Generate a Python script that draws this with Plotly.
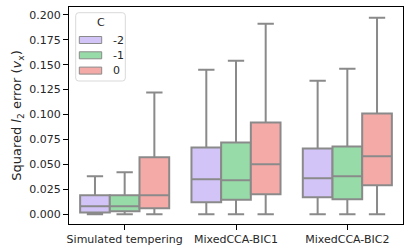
import plotly.graph_objects as go

categories = ["Simulated tempering", "MixedCCA-BIC1", "MixedCCA-BIC2"]
hues = ["-2", "-1", "0"]
colors = ["#d3c4f7", "#97dca8", "#f4aaa7"]

lower = {"-2": [0.0, 0.0, 0.0], "-1": [0.0, 0.0, 0.0], "0": [0.0, 0.0, 0.0]}
q1 = {"-2": [0.0017, 0.012, 0.017], "-1": [0.003, 0.0145, 0.015], "0": [0.006, 0.020, 0.029]}
median = {"-2": [0.008, 0.035, 0.036], "-1": [0.008, 0.034, 0.038], "0": [0.019, 0.050, 0.058]}
q3 = {"-2": [0.019, 0.067, 0.066], "-1": [0.019, 0.072, 0.068], "0": [0.057, 0.092, 0.101]}
upper = {"-2": [0.038, 0.145, 0.134], "-1": [0.042, 0.154, 0.146], "0": [0.122, 0.191, 0.197]}

yticks = [0.0, 0.025, 0.05, 0.075, 0.1, 0.125, 0.15, 0.175, 0.2]

W, H = 411, 251
L, R, T, B = 69, 8, 7, 27
PW, PH = W - L - R, H - T - B


def px(x):
    return (x - L) / PW


def py(y):
    return (H - B - y) / PH


fig = go.Figure()
for h, c in zip(hues, colors):
    fig.add_trace(go.Box(
        name=h, x=categories, q1=q1[h], median=median[h], q3=q3[h],
        lowerfence=lower[h], upperfence=upper[h],
        fillcolor=c, line=dict(color="#8a8a8a", width=2),
        whiskerwidth=0.55, boxpoints=False, hoverinfo="skip",
        showlegend=False,
    ))

font = dict(family="DejaVu Sans", size=11, color="#262626")

# legend drawn manually (matplotlib-style)
shapes = []
annotations = []
lx0, lx1, ly0, ly1, r = 75.7, 125.3, 12.7, 81.0, 3
path = (f"M {px(lx0 + r)} {py(ly0)} L {px(lx1 - r)} {py(ly0)} "
        f"Q {px(lx1)} {py(ly0)} {px(lx1)} {py(ly0 + r)} "
        f"L {px(lx1)} {py(ly1 - r)} Q {px(lx1)} {py(ly1)} {px(lx1 - r)} {py(ly1)} "
        f"L {px(lx0 + r)} {py(ly1)} Q {px(lx0)} {py(ly1)} {px(lx0)} {py(ly1 - r)} "
        f"L {px(lx0)} {py(ly0 + r)} Q {px(lx0)} {py(ly0)} {px(lx0 + r)} {py(ly0)} Z")
shapes.append(dict(type="path", xref="paper", yref="paper", path=path,
                   line=dict(color="#d9d9d9", width=1), fillcolor="rgba(255,255,255,0.8)",
                   layer="above"))
annotations.append(dict(text="C", xref="paper", yref="paper", x=px(100.5), y=py(22.5),
                        xanchor="center", yanchor="middle", showarrow=False, font=font))
for i, (h, c) in enumerate(zip(hues, colors)):
    yc = 40 + i * 15.3
    shapes.append(dict(type="rect", xref="paper", yref="paper",
                       x0=px(79.3), x1=px(101.7), y0=py(yc + 3.5), y1=py(yc - 3.5),
                       fillcolor=c, line=dict(color="#8a8a8a", width=1), layer="above"))
    annotations.append(dict(text=h, xref="paper", yref="paper", x=px(111), y=py(yc),
                            xanchor="left", yanchor="middle", showarrow=False, font=font))

fig.update_layout(
    width=W, height=H,
    margin=dict(l=L, r=R, t=T, b=B),
    paper_bgcolor="white", plot_bgcolor="white",
    boxmode="group", boxgap=0.2, boxgroupgap=0,
    font=font,
    shapes=shapes, annotations=annotations,
    showlegend=False,
)
fig.update_xaxes(
    showline=True, linecolor="black", linewidth=1.2, mirror=True,
    ticks="outside", ticklen=5, tickcolor="black", showgrid=False,
    range=[-0.5, 2.5], automargin=False,
)
fig.update_yaxes(
    showline=True, linecolor="black", linewidth=1.2, mirror=True,
    ticks="outside", ticklen=5, tickcolor="black", showgrid=False,
    zeroline=False, automargin=False,
    range=[-0.0099, 0.2079], tickvals=yticks,
    ticktext=[f"{v:.3f}" for v in yticks],
    title=dict(text="Squared <i>l</i><sub>2</sub> error (<i>v</i><sub>x</sub>)", standoff=4),
)
fig.write_html("out.html", config={"displayModeBar": False},
               post_script="document.body.style.margin='0';document.body.style.overflow='hidden';")
